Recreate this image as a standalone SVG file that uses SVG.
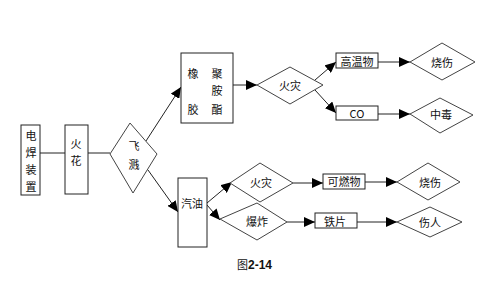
<svg xmlns="http://www.w3.org/2000/svg" width="500" height="300" viewBox="0 0 500 300">
<style>
.box{fill:#fff;stroke:#222;stroke-width:1}
.dia{fill:#fff;stroke:#444;stroke-width:1}
.t{font-family:"Noto Sans CJK SC","Liberation Sans",sans-serif;font-size:11px;fill:#111;text-anchor:middle;dominant-baseline:central}
.ln{stroke:#222;stroke-width:1;fill:none}
.arr{stroke:#222;stroke-width:1;fill:none;marker-end:url(#ah)}
</style>
<defs>
<marker id="ah" markerUnits="userSpaceOnUse" markerWidth="12" markerHeight="10" refX="11" refY="5" orient="auto">
<path d="M0,0 L11,5 L0,10 Z" fill="#000"/>
</marker>
</defs>
<rect width="500" height="300" fill="#fff"/>
<g id="connectors">
<line class="ln" x1="40" y1="153" x2="65" y2="153"/>
<line class="ln" x1="88" y1="153" x2="110" y2="153"/>
<line class="arr" x1="146" y1="141" x2="181" y2="87"/>
<line class="arr" x1="148" y1="170" x2="178" y2="212"/>
<line class="arr" x1="233" y1="85" x2="257" y2="85"/>
<line class="arr" x1="315" y1="80" x2="336" y2="62"/>
<line class="arr" x1="315" y1="90" x2="336" y2="113"/>
<line class="arr" x1="378" y1="62" x2="410" y2="62"/>
<line class="arr" x1="378" y1="114" x2="410" y2="114"/>
<line class="arr" x1="207" y1="203" x2="232" y2="182"/>
<line class="arr" x1="207" y1="205" x2="220" y2="220"/>
<line class="arr" x1="293" y1="183" x2="323" y2="183"/>
<line class="arr" x1="287" y1="222" x2="315" y2="222"/>
<line class="arr" x1="365" y1="182" x2="397" y2="182"/>
<line class="arr" x1="357" y1="222" x2="397" y2="222"/>
</g>
<g id="n-dianhan"><rect class="box" x="21" y="125" width="19" height="70"/>
<text class="t" x="31" y="135">电</text><text class="t" x="31" y="152">焊</text><text class="t" x="31" y="169">装</text><text class="t" x="31" y="186">置</text></g>
<g id="n-huohua"><rect class="box" x="65" y="125" width="23" height="69"/>
<text class="t" x="76" y="143">火</text><text class="t" x="76" y="160">花</text></g>
<g id="n-feijian"><polygon class="dia" points="110,154 130,123 157,154 133,193"/>
<text class="t" x="134" y="145">飞</text><text class="t" x="134" y="164">溅</text></g>
<g id="n-xiangjiao"><rect class="box" x="181" y="53" width="52" height="70"/>
<text class="t" x="193" y="73">橡</text><text class="t" x="217" y="73">聚</text><text class="t" x="217" y="90">胺</text><text class="t" x="193" y="109">胶</text><text class="t" x="217" y="109">酯</text></g>
<g id="n-huozai1"><polygon class="dia" points="257,85 290,67 323,85 290,104"/>
<text class="t" x="290" y="85">火灾</text></g>
<g id="n-gaowen"><rect class="box" x="336" y="53" width="42" height="15"/>
<text class="t" x="357" y="61">高温物</text></g>
<g id="n-co"><rect class="box" x="336" y="106" width="42" height="14"/>
<text class="t" x="357" y="113">CO</text></g>
<g id="n-shaoshang1"><polygon class="dia" points="410,62 442,43 475,62 442,80"/>
<text class="t" x="442" y="62">烧伤</text></g>
<g id="n-zhongdu"><polygon class="dia" points="410,114 440,98 473,115 440,133"/>
<text class="t" x="441" y="114">中毒</text></g>
<g id="n-qiyou"><rect class="box" x="178" y="178" width="29" height="69"/>
<text class="t" x="192" y="203">汽油</text></g>
<g id="n-huozai2"><polygon class="dia" points="230,183 260,163 293,183 260,202"/>
<text class="t" x="261" y="182">火灾</text></g>
<g id="n-baozha"><polygon class="dia" points="220,219 257,203 287,222 257,240"/>
<text class="t" x="257" y="221">爆炸</text></g>
<g id="n-keran"><rect class="box" x="323" y="174" width="42" height="15"/>
<text class="t" x="344" y="181">可燃物</text></g>
<g id="n-tiepian"><rect class="box" x="315" y="213" width="42" height="15"/>
<text class="t" x="335" y="221">铁片</text></g>
<g id="n-shaoshang2"><polygon class="dia" points="397,182 428,163 460,182 428,200"/>
<text class="t" x="430" y="182">烧伤</text></g>
<g id="n-shangren"><polygon class="dia" points="397,222 430,207 462,222 430,237"/>
<text class="t" x="430" y="222">伤人</text></g>
<g id="caption"><text x="237" y="269" style="font-family:'Noto Sans CJK SC',sans-serif;font-size:11px;fill:#111">图<tspan style="font-family:'Liberation Sans',sans-serif;font-weight:bold;font-size:12px">2-14</tspan></text></g>
</svg>
